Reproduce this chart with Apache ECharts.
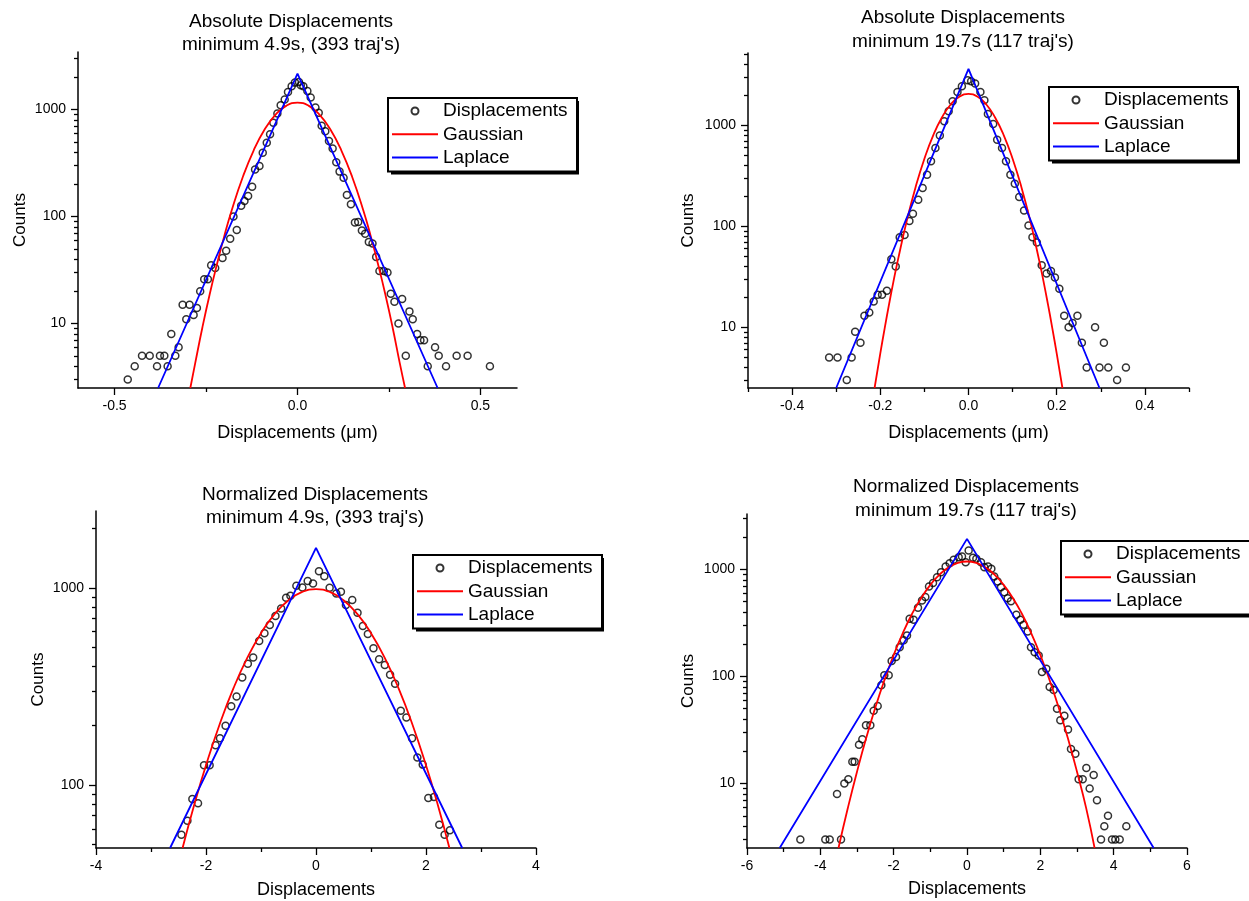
<!DOCTYPE html>
<html>
<head>
<meta charset="utf-8">
<script src="https://cdn.jsdelivr.net/npm/echarts@6/dist/echarts.min.js"></script>
<style>html,body{margin:0;padding:0;background:#fff}#c{width:1249px;height:901px}</style>
</head>
<body>
<div id="c"></div>
<script>
// ---------- DATA ----------
const titles = [
  "Absolute Displacements\nminimum 4.9s, (393 traj's)",
  "Absolute Displacements\nminimum 19.7s (117 traj's)",
  "Normalized Displacements\nminimum 4.9s, (393 traj's)",
  "Normalized Displacements\nminimum 19.7s (117 traj's)"
];
const xNames = ["Displacements (\u03bcm)", "Displacements (\u03bcm)", "Displacements", "Displacements"];
const legendNames = ["Displacements", "Gaussian", "Laplace"];

// x tick values
const p1XMajor = [-0.5, 0, 0.5];
const p1XMinor = [-0.25, 0.25];
const p2XMajor = [-0.4, -0.2, 0, 0.2, 0.4];
const p2XMinor = [-0.5, -0.3, -0.1, 0.1, 0.3, 0.5];
const p3XMajor = [-4, -2, 0, 2, 4];
const p3XMinor = [-3, -1, 1, 3];
const p4XMajor = [-6, -4, -2, 0, 2, 4, 6];
const p4XMinor = [-5, -3, -1, 1, 3, 5];
// y tick values (log axes)
const p1YMajor = [10, 100, 1000];
const p1YMinor = [3, 4, 5, 6, 7, 8, 9, 20, 30, 40, 50, 60, 70, 80, 90, 200, 300, 400, 500, 600, 700, 800, 900, 2000, 3000];
const p2YMajor = [10, 100, 1000];
const p2YMinor = [3, 4, 5, 6, 7, 8, 9, 20, 30, 40, 50, 60, 70, 80, 90, 200, 300, 400, 500, 600, 700, 800, 900, 2000, 3000, 4000, 5000];
const p3YMajor = [100, 1000];
const p3YMinor = [50, 60, 70, 80, 90, 200, 300, 400, 500, 600, 700, 800, 900, 2000];
const p4YMajor = [10, 100, 1000];
const p4YMinor = [3, 4, 5, 6, 7, 8, 9, 20, 30, 40, 50, 60, 70, 80, 90, 200, 300, 400, 500, 600, 700, 800, 900, 2000, 3000];

// axis ranges
const p1XRange = [-0.6, 0.6], p1YRange = [2.5, 3450];
const p2XRange = [-0.5, 0.5], p2YRange = [2.5, 5200];
const p3XRange = [-4, 4],     p3YRange = [48, 2450];
const p4XRange = [-6, 6],     p4YRange = [2.5, 3300];

// Panel 1: absolute, min 4.9 s
const p1Disp = [[-0.464,3],[-0.445,4],[-0.425,5],[-0.404,5],[-0.384,4],[-0.376,5],[-0.364,5],[-0.355,4],[-0.345,8],[-0.334,5],[-0.325,6],[-0.314,15],[-0.304,11],[-0.295,15],[-0.284,12],[-0.275,14],[-0.266,20],[-0.255,26],[-0.245,26],[-0.236,35],[-0.225,33],[-0.205,41],[-0.195,48],[-0.184,62],[-0.175,100],[-0.166,75],[-0.154,126],[-0.145,140],[-0.135,156],[-0.124,190],[-0.116,276],[-0.104,297],[-0.095,395],[-0.084,489],[-0.075,589],[-0.066,752],[-0.055,918],[-0.046,1097],[-0.035,1240],[-0.026,1462],[-0.016,1649],[-0.007,1785],[0.004,1811],[0.009,1687],[0.016,1649],[0.027,1494],[0.036,1293],[0.049,1044],[0.058,931],[0.066,705],[0.076,628],[0.086,507],[0.096,433],[0.106,321],[0.115,263],[0.126,231],[0.135,159],[0.146,130],[0.157,88],[0.166,89],[0.176,74],[0.185,69],[0.195,58],[0.205,56],[0.215,42],[0.224,31],[0.236,31],[0.246,30],[0.255,19],[0.265,16],[0.276,10],[0.286,17],[0.296,5],[0.306,13],[0.315,11],[0.327,8],[0.336,7],[0.346,7],[0.356,4],[0.376,6],[0.386,5],[0.406,4],[0.435,5],[0.465,5],[0.526,4]];
const p1Gauss = [[-0.293,2.5],[-0.28,4.2],[-0.26,9.2],[-0.24,18.8],[-0.22,36],[-0.2,66],[-0.18,114],[-0.15,232],[-0.12,414],[-0.09,650],[-0.06,898],[-0.03,1089],[0,1162],[0.03,1089],[0.06,898],[0.09,650],[0.12,414],[0.15,232],[0.18,114],[0.2,66],[0.22,36],[0.24,18.8],[0.26,9.2],[0.28,4.2],[0.294,2.5]];
const p1Lap = [[-0.381,2.5],[0,2165],[0.383,2.5]];

// Panel 2: absolute, min 19.7 s
const p2Disp = [[-0.316,5],[-0.297,5],[-0.276,3],[-0.265,5],[-0.257,9],[-0.245,7],[-0.236,13],[-0.225,14],[-0.215,18],[-0.206,21],[-0.196,21],[-0.185,23],[-0.175,47],[-0.165,40],[-0.156,78],[-0.145,82],[-0.134,113],[-0.126,133],[-0.114,183],[-0.104,239],[-0.094,324],[-0.085,440],[-0.075,596],[-0.065,791],[-0.055,1096],[-0.045,1377],[-0.036,1730],[-0.025,2139],[-0.015,2438],[-0.002,2793],[0.006,2730],[0.015,2588],[0.027,2139],[0.036,1770],[0.044,1295],[0.056,1031],[0.065,721],[0.076,596],[0.085,440],[0.095,324],[0.105,264],[0.115,195],[0.126,143],[0.136,102],[0.145,78],[0.155,69],[0.166,41],[0.177,34],[0.187,36],[0.196,31],[0.206,24],[0.217,13],[0.227,10],[0.236,11],[0.247,13],[0.257,7],[0.268,4],[0.287,10],[0.297,4],[0.307,7],[0.317,4],[0.337,3],[0.357,4]];
const p2Gauss = [[-0.213,2.5],[-0.2,5.5],[-0.19,9.8],[-0.18,17],[-0.17,28.6],[-0.16,46.5],[-0.14,113],[-0.12,244],[-0.1,467],[-0.08,795],[-0.06,1202],[-0.04,1616],[-0.02,1929],[0,2048],[0.02,1929],[0.04,1616],[0.06,1202],[0.08,795],[0.1,467],[0.12,244],[0.14,113],[0.16,46.5],[0.17,28.6],[0.18,17],[0.19,9.8],[0.2,5.5],[0.213,2.5]];
const p2Lap = [[-0.300,2.5],[0,3614],[0.297,2.5]];

// Panel 3: normalized, min 4.9 s
const p3Disp = [[-2.447,56],[-2.338,66],[-2.248,85],[-2.145,81],[-2.036,126],[-1.934,126],[-1.825,159],[-1.746,173],[-1.644,200],[-1.541,251],[-1.444,281],[-1.341,351],[-1.239,412],[-1.142,443],[-1.033,538],[-0.937,588],[-0.840,648],[-0.737,720],[-0.634,786],[-0.544,890],[-0.465,911],[-0.357,1023],[-0.248,1004],[-0.151,1081],[-0.054,1052],[0.054,1214],[0.151,1145],[0.248,1000],[0.369,936],[0.453,954],[0.544,817],[0.659,866],[0.755,748],[0.852,640],[0.943,583],[1.045,494],[1.148,434],[1.251,406],[1.347,362],[1.438,326],[1.541,238],[1.644,220],[1.746,173],[1.843,138],[1.940,127],[2.042,86],[2.145,87],[2.242,63],[2.338,56],[2.435,59]];
const p3Gauss = [[-2.426,48],[-2.2,82],[-2.0,126],[-1.75,204],[-1.5,310],[-1.25,441],[-1.0,589],[-0.75,737],[-0.5,865],[-0.25,953],[0,985],[0.25,953],[0.5,865],[0.75,737],[1.0,589],[1.25,441],[1.5,310],[1.75,204],[2.0,126],[2.2,82],[2.426,48]];
const p3Lap = [[-2.653,48],[0,1592],[2.659,48]];

// Panel 4: normalized, min 19.7 s
const p4Disp = [[-4.545,3],[-3.864,3],[-3.745,3],[-3.436,3],[-3.545,8],[-3.345,10],[-3.236,11],[-3.127,16],[-3.064,16],[-2.945,23],[-2.855,26],[-2.755,35],[-2.636,35],[-2.545,48],[-2.436,53],[-2.336,83],[-2.255,103],[-2.136,103],[-2.055,140],[-1.936,152],[-1.836,188],[-1.727,218],[-1.636,242],[-1.564,347],[-1.455,339],[-1.336,439],[-1.227,514],[-1.136,552],[-1.036,694],[-0.927,746],[-0.818,848],[-0.709,944],[-0.582,1067],[-0.473,1146],[-0.364,1231],[-0.227,1304],[-0.136,1322],[-0.036,1171],[0.045,1504],[0.164,1285],[0.255,1257],[0.382,1171],[0.473,1051],[0.573,1066],[0.664,1014],[0.745,860],[0.836,773],[0.927,684],[1.018,614],[1.109,540],[1.2,506],[1.345,378],[1.455,339],[1.545,305],[1.655,264],[1.745,188],[1.845,169],[1.955,157],[2.045,110],[2.164,118],[2.255,80],[2.364,75],[2.455,50],[2.545,39],[2.655,43],[2.755,32],[2.836,21],[2.955,19],[3.045,11],[3.155,11],[3.255,14],[3.345,9],[3.455,12],[3.545,7],[3.655,3],[3.745,4],[3.845,5],[3.955,3],[4.045,3],[4.164,3],[4.345,4]];
const p4Gauss = [[-3.505,2.5],[-3.25,5.9],[-3.0,12.9],[-2.75,26.6],[-2.5,51.4],[-2.25,93],[-2.0,159],[-1.75,255],[-1.5,384],[-1.25,542],[-1.0,719],[-0.75,896],[-0.5,1048],[-0.25,1152],[0,1188],[0.25,1152],[0.5,1048],[0.75,896],[1.0,719],[1.25,542],[1.5,384],[1.75,255],[2.0,159],[2.25,93],[2.5,51.4],[2.75,26.6],[3.0,12.9],[3.25,5.9],[3.48,2.5]];
const p4Lap = [[-5.109,2.5],[0,1932],[5.091,2.5]];

// ---------- LAYOUT ----------
const FONT = 'Arial, "Liberation Sans", sans-serif';
const LEG = {textW: 130, pad: [2, 4, 3, 3], iconW: 46, rowH: 22, gap: 1.3};
const legW = LEG.pad[3] + LEG.iconW + 5 + LEG.textW + LEG.pad[1];
const legH = LEG.pad[0] + 3 * LEG.rowH + 2 * LEG.gap + LEG.pad[2];

const panels = [
  {grid:{left:78, top:52, width:439, height:336}, xr:p1XRange, yr:p1YRange, xMaj:p1XMajor, xMin:p1XMinor, yMaj:p1YMajor, yMin:p1YMinor, dec:1, disp:p1Disp, gauss:p1Gauss, lap:p1Lap,
   title:{left:291, top:10}, xGap:36, yGap:49, legend:{left:388, top:98}},
  {grid:{left:748, top:53, width:441, height:335}, xr:p2XRange, yr:p2YRange, xMaj:p2XMajor, xMin:p2XMinor, yMaj:p2YMajor, yMin:p2YMinor, dec:1, disp:p2Disp, gauss:p2Gauss, lap:p2Lap,
   title:{left:963, top:6.5}, xGap:36, yGap:51, legend:{left:1049, top:87}},
  {grid:{left:96, top:511, width:440, height:337}, xr:p3XRange, yr:p3YRange, xMaj:p3XMajor, xMin:p3XMinor, yMaj:p3YMajor, yMin:p3YMinor, dec:0, disp:p3Disp, gauss:p3Gauss, lap:p3Lap,
   title:{left:315, top:483}, xGap:33, yGap:49, legend:{left:413, top:555}},
  {grid:{left:747, top:514, width:440, height:334}, xr:p4XRange, yr:p4YRange, xMaj:p4XMajor, xMin:p4XMinor, yMaj:p4YMajor, yMin:p4YMinor, dec:0, disp:p4Disp, gauss:p4Gauss, lap:p4Lap,
   title:{left:966, top:475.5}, xGap:32, yGap:50, legend:{left:1061, top:541}}
];

const option = {
  animation: false,
  backgroundColor: '#fff',
  textStyle: {fontFamily: FONT},
  title: [], legend: [], grid: [], xAxis: [], yAxis: [], series: [], graphic: []
};

panels.forEach((p, i) => {
  option.grid.push(Object.assign({containLabel:false}, p.grid));
  option.title.push({
    text: titles[i], left: p.title.left, top: p.title.top, textAlign: 'center', padding: 0,
    textStyle: {fontFamily: FONT, fontSize: 19, fontWeight: 'normal', color: '#000', lineHeight: 23.5}
  });
  option.legend.push({
    orient: 'vertical', left: p.legend.left, top: p.legend.top, z: 6,
    itemWidth: LEG.iconW, itemHeight: 7, itemGap: LEG.gap, padding: LEG.pad,
    borderColor: '#000', borderWidth: 2, backgroundColor: '#fff',
    selectedMode: false,
    textStyle: {fontFamily: FONT, fontSize: 19, lineHeight: LEG.rowH, color: '#000', width: LEG.textW},
    data: legendNames
  });
  // drop shadow behind the legend box
  option.graphic.push({
    type: 'rect', z: 5, silent: true,
    shape: {x: p.legend.left + 3, y: p.legend.top + 3, width: legW, height: legH},
    style: {fill: '#000'}
  });
  const fmtX = v => (p.dec ? Number(v).toFixed(p.dec) : String(Math.round(v)));
  option.xAxis.push({
    type: 'value', gridIndex: i, position: 'bottom', min: p.xr[0], max: p.xr[1],
    name: xNames[i], nameLocation: 'middle', nameGap: p.xGap,
    nameTextStyle: {fontFamily: FONT, fontSize: 18, color: '#000'},
    axisLine: {show: true, onZero: false, lineStyle: {color: '#000', width: 1.5}},
    axisTick: {show: true, inside: false, length: 7, customValues: p.xMaj, lineStyle: {color: '#000', width: 1.3}},
    axisLabel: {show: true, customValues: p.xMaj, formatter: fmtX, fontFamily: FONT, fontSize: 14, color: '#000', margin: 11},
    splitLine: {show: false}
  });
  option.xAxis.push({
    type: 'value', gridIndex: i, position: 'bottom', min: p.xr[0], max: p.xr[1],
    axisLine: {show: false, onZero: false},
    axisTick: {show: true, inside: false, length: 4, customValues: p.xMin, lineStyle: {color: '#000', width: 1.3}},
    axisLabel: {show: false}, splitLine: {show: false}
  });
  option.yAxis.push({
    type: 'log', logBase: 10, gridIndex: i, position: 'left', min: p.yr[0], max: p.yr[1],
    name: 'Counts', nameLocation: 'middle', nameGap: p.yGap,
    nameTextStyle: {fontFamily: FONT, fontSize: 17, color: '#000'},
    axisLine: {show: true, onZero: false, lineStyle: {color: '#000', width: 1.5}},
    axisTick: {show: true, inside: false, length: 7, customValues: p.yMaj, lineStyle: {color: '#000', width: 1.3}},
    axisLabel: {show: true, customValues: p.yMaj, formatter: v => String(Math.round(v)), fontFamily: FONT, fontSize: 14, color: '#000', margin: 12},
    splitLine: {show: false}
  });
  option.yAxis.push({
    type: 'log', logBase: 10, gridIndex: i, position: 'left', min: p.yr[0], max: p.yr[1],
    axisLine: {show: false, onZero: false},
    axisTick: {show: true, inside: false, length: 4, customValues: p.yMin, lineStyle: {color: '#000', width: 1.3}},
    axisLabel: {show: false}, splitLine: {show: false}
  });
  const xi = 2 * i, yi = 2 * i;
  option.series.push({
    type: 'scatter', name: 'Displacements', xAxisIndex: xi, yAxisIndex: yi, data: p.disp,
    symbol: 'circle', symbolSize: 7, z: 2,
    itemStyle: {color: 'rgba(0,0,0,0)', borderColor: '#000', borderWidth: 1.5}
  });
  option.series.push({
    type: 'line', name: 'Gaussian', xAxisIndex: xi, yAxisIndex: yi, data: p.gauss,
    smooth: true, symbol: 'none', z: 3,
    lineStyle: {color: '#ff0000', width: 1.8}, itemStyle: {color: 'rgba(0,0,0,0)'}
  });
  option.series.push({
    type: 'line', name: 'Laplace', xAxisIndex: xi, yAxisIndex: yi, data: p.lap,
    symbol: 'none', z: 4,
    lineStyle: {color: '#0000ff', width: 1.8}, itemStyle: {color: 'rgba(0,0,0,0)'}
  });
});

const chart = echarts.init(document.getElementById('c'), null, {renderer: 'canvas'});
chart.setOption(option);
</script>
</body>
</html>
